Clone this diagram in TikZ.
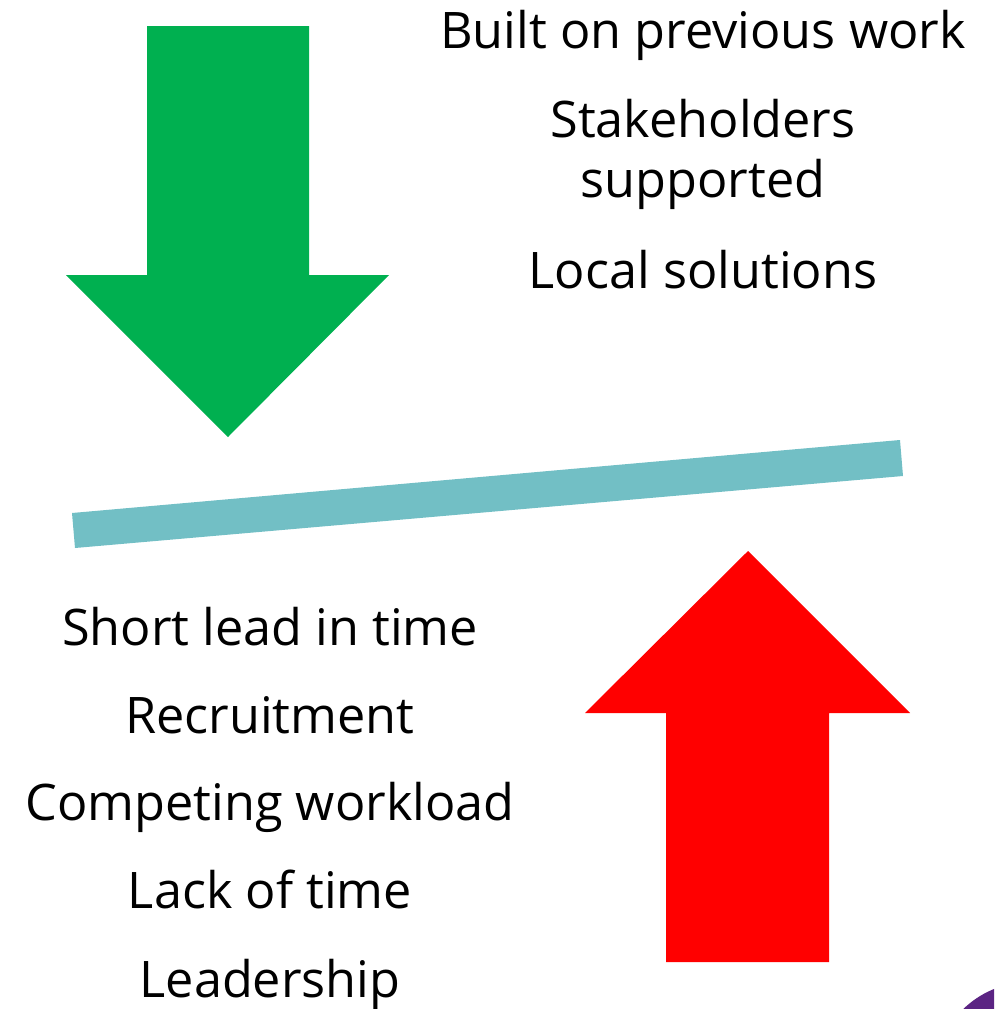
\documentclass[tikz,border=0pt]{standalone}
\usepackage{fontspec}
\setmainfont{Open Sans}
\definecolor{upgreen}{HTML}{00B050}
\definecolor{downred}{HTML}{FF0000}
\definecolor{beamteal}{HTML}{72BFC5}
\definecolor{cornerpurple}{HTML}{5B2483}
\begin{document}
\begin{tikzpicture}[x=1pt,y=-1pt,
  label/.style={anchor=base,inner sep=0pt,font=\fontsize{50.4}{60}\selectfont}]
\useasboundingbox (0,0) rectangle (994,1009);
\begin{scope}
  \clip (0,0) rectangle (994,1009);
  % corner disc
  \fill[cornerpurple] (1030,1078) circle[radius=96];
\end{scope}
% downward push (green arrow)
\fill[upgreen] (147,26) -- (309,26) -- (309,275) -- (389,275) -- (228,437)
  -- (66,275) -- (147,275) -- cycle;
% tilted balance beam
\fill[beamteal] (72,513) -- (900,440) -- (903,476) -- (75,548) -- cycle;
% upward push (red arrow)
\fill[downred] (666,962) -- (829,962) -- (829,713) -- (910,713) -- (748,551)
  -- (585,713) -- (666,713) -- cycle;
% enablers
\node[label] (t1) at (703,48) {Built on previous work};
\node[label] (t2) at (703,137) {Stakeholders};
\node[label] (t3) at (703,197) {supported};
\node[label] (t4) at (703,288) {Local solutions};
% barriers
\node[label] (b1) at (270,645) {Short lead in time};
\node[label] (b2) at (270,733) {Recruitment};
\node[label] (b3) at (270,820) {Competing workload};
\node[label] (b4) at (270,908) {Lack of time};
\node[label] (b5) at (270,997) {Leadership};
\end{tikzpicture}
\end{document}
